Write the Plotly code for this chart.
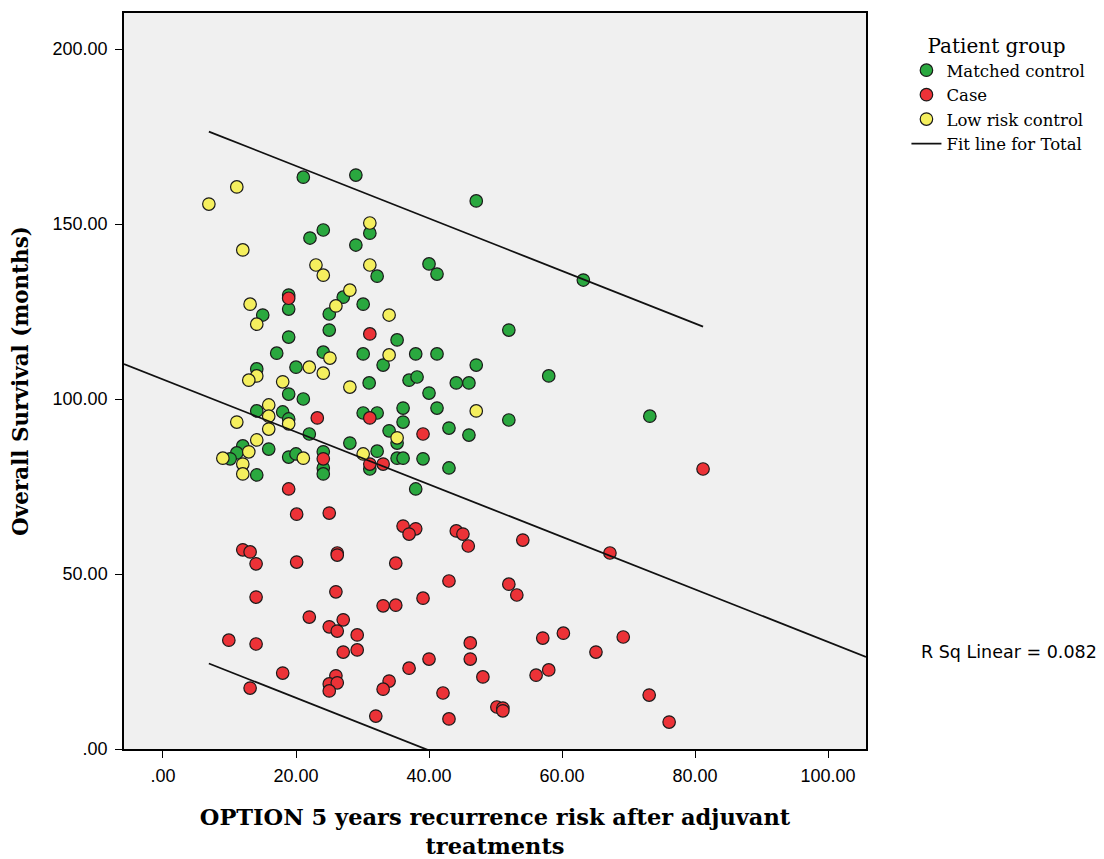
import plotly.graph_objects as go

# ---------------- data ----------------
matched_x = [21.1, 29.0, 47.1, 31.1, 24.1, 22.1, 29.0, 32.2, 40.0, 41.2,
             27.1, 25.0, 30.1, 18.9, 18.9, 15.0, 18.9, 25.0, 35.2, 17.1,
             24.1, 30.1, 38.0, 41.2, 47.1, 14.1, 20.0, 33.1, 18.9, 21.1,
             31.0, 37.0, 38.2, 44.1, 46.0, 40.0, 41.2, 36.1, 36.1, 30.1,
             32.2, 14.1, 18.0, 18.9, 22.0, 34.0, 35.2, 43.0, 46.0, 28.1,
             12.0, 11.1, 10.1, 14.1, 15.9, 18.9, 20.0, 24.1, 24.1, 24.1,
             32.2, 31.1, 35.2, 36.1, 39.1, 43.0, 38.0, 58.0, 52.0, 63.2,
             52.0, 73.2]
matched_y = [163.4, 164.0, 156.6, 147.4, 148.3, 146.0, 144.0, 135.1, 138.6, 135.7,
             129.1, 124.3, 127.1, 129.7, 125.7, 124.0, 117.7, 119.7, 116.9, 113.1,
             113.4, 112.9, 112.9, 112.9, 109.7, 108.6, 109.1, 109.7, 101.4, 100.0,
             104.6, 105.4, 106.3, 104.6, 104.6, 101.7, 97.4, 97.4, 93.4, 96.0,
             96.0, 96.6, 96.3, 94.3, 90.0, 90.9, 87.4, 91.7, 89.7, 87.4,
             86.6, 84.6, 82.9, 78.3, 85.7, 83.4, 84.3, 84.9, 80.3, 78.6,
             85.1, 80.0, 83.1, 83.1, 82.9, 80.3, 74.3, 106.6, 119.7, 134.0,
             94.0, 95.1]

case_x = [18.9, 31.1, 23.2, 31.1, 39.1, 24.1, 31.1, 33.1, 18.9, 81.2,
          20.1, 25.0, 36.1, 38.0, 37.0, 44.1, 45.1, 45.9, 12.0, 13.1,
          14.0, 20.1, 26.2, 26.2, 35.0, 43.0, 39.1, 14.0, 26.0, 33.1,
          35.0, 22.0, 25.0, 26.2, 27.1, 29.2, 27.1, 29.2, 9.9, 14.0,
          18.0, 13.1, 26.0, 25.0, 26.2, 25.0, 34.0, 33.1, 37.0, 40.0,
          32.0, 42.1, 43.0, 46.2, 46.2, 54.1, 67.2, 52.0, 53.2, 48.1,
          50.2, 51.1, 51.1, 57.1, 60.2, 69.2, 65.1, 56.1, 58.0, 73.1,
          76.1]
case_y = [128.8, 118.6, 94.6, 94.6, 90.0, 82.9, 81.4, 81.4, 74.3, 80.0,
          67.1, 67.4, 63.7, 62.9, 61.4, 62.3, 61.4, 58.0, 56.9, 56.3,
          52.9, 53.4, 56.0, 55.4, 53.1, 48.0, 43.1, 43.4, 44.9, 40.9,
          41.1, 37.7, 34.9, 33.7, 36.9, 32.6, 27.7, 28.3, 31.1, 30.0,
          21.7, 17.4, 20.9, 18.6, 18.9, 16.6, 19.4, 17.1, 23.1, 25.7,
          9.4, 16.0, 8.6, 30.3, 25.7, 59.7, 56.0, 47.1, 44.0, 20.6,
          12.0, 11.7, 10.9, 31.7, 33.1, 32.0, 27.7, 21.1, 22.6, 15.4,
          7.7]

lowrisk_x = [6.9, 11.1, 31.1, 12.0, 23.0, 24.1, 31.1, 28.1, 26.0, 34.0,
             13.1, 14.1, 25.1, 34.0, 14.1, 12.9, 22.0, 24.1, 18.0, 28.1,
             47.1, 15.9, 15.9, 18.9, 15.9, 11.1, 35.2, 14.1, 12.9, 9.0,
             12.0, 12.0, 21.1, 30.1]
lowrisk_y = [155.7, 160.6, 150.3, 142.6, 138.3, 135.4, 138.3, 131.1, 126.6, 124.0,
             127.1, 121.4, 111.7, 112.6, 106.6, 105.4, 109.1, 107.4, 104.9, 103.4,
             96.6, 98.3, 95.1, 92.9, 91.4, 93.4, 88.9, 88.3, 84.9, 83.1,
             81.4, 78.6, 83.1, 84.3]

# linear fit for total and individual prediction band
fit_intercept = 105.6
fit_slope = -0.75
pred_halfwidth = 76.0
r_sq_linear = 0.082

x_ticks = [0, 20, 40, 60, 80, 100]
x_ticklabels = [".00", "20.00", "40.00", "60.00", "80.00", "100.00"]
y_ticks = [0, 50, 100, 150, 200]
y_ticklabels = [".00", "50.00", "100.00", "150.00", "200.00"]

x_range = [-5.86, 105.7]
y_range = [0, 210.3]

# ---------------- figure ----------------
serif = "DejaVu Serif, Liberation Serif, serif"
sans = "Liberation Sans, Arial, sans-serif"

fig = go.Figure()

groups = [
    ("Matched control", matched_x, matched_y, "#2aa83f"),
    ("Case", case_x, case_y, "#ec3237"),
    ("Low risk control", lowrisk_x, lowrisk_y, "#f5ef5e"),
]
for name, xs, ys, col in groups:
    fig.add_trace(go.Scatter(
        x=xs, y=ys, mode="markers", name=name,
        marker=dict(size=12.5, color=col, line=dict(color="#1a1a1a", width=1.2)),
    ))

all_x = matched_x + case_x + lowrisk_x
xmin, xmax = min(all_x), max(all_x)

# total fit line across the full axis
fx = [x_range[0], x_range[1]]
fig.add_trace(go.Scatter(
    x=fx, y=[fit_intercept + fit_slope * v for v in fx], mode="lines",
    name="Fit line for Total", legendgroup="fit",
    line=dict(color="#111111", width=1.8),
))
# prediction interval lines over the data range
px_ = [xmin, xmax]
for sgn in (1, -1):
    fig.add_trace(go.Scatter(
        x=px_, y=[fit_intercept + fit_slope * v + sgn * pred_halfwidth for v in px_],
        mode="lines", showlegend=False, legendgroup="fit",
        line=dict(color="#111111", width=1.8),
    ))

fig.add_annotation(
    text=f"R Sq Linear = {r_sq_linear:.3f}", xref="paper", yref="paper",
    x=1.0715, y=0.132, xanchor="left", yanchor="middle", showarrow=False,
    font=dict(family="DejaVu Sans, Liberation Sans, sans-serif", size=17.5, color="black"),
)

axis_common = dict(
    showgrid=False, zeroline=False, showline=True, linecolor="black", linewidth=1.5,
    mirror=True, ticks="outside", ticklen=7, tickcolor="black", tickwidth=1.2,
    tickfont=dict(family=sans, size=18, color="black"), automargin=False,
)

fig.update_layout(
    width=1104, height=859,
    margin=dict(l=116, r=246, t=5, b=118),
    paper_bgcolor="white", plot_bgcolor="#f0f0f0",
    xaxis=dict(range=x_range, tickvals=x_ticks, ticktext=x_ticklabels, ticklabelstandoff=3,
               title=dict(text="<b>OPTION 5 years recurrence risk after adjuvant<br>treatments</b>",
                          font=dict(family=serif, size=22.5, color="black"), standoff=24),
               **axis_common),
    yaxis=dict(range=y_range, tickvals=y_ticks, ticktext=y_ticklabels, ticklabelstandoff=4,
               title=dict(text="<b>Overall Survival (months)</b>",
                          font=dict(family=serif, size=21.5, color="black"), standoff=21),
               **axis_common),
    legend=dict(
        x=1.0545, y=0.981, xanchor="left", yanchor="top",
        title=dict(text="\u00a0\u00a0\u00a0Patient group",
                   font=dict(family=serif, size=20, color="black"), side="top"),
        font=dict(family=serif, size=16.5, color="black"),
        bgcolor="rgba(0,0,0,0)", tracegroupgap=0, itemwidth=30,
    ),
    showlegend=True,
)

fig.write_html("out.html")
